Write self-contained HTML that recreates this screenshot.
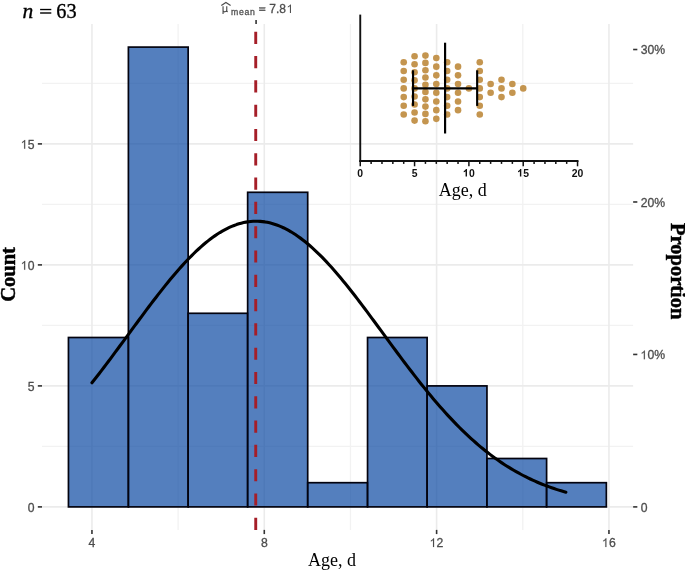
<!DOCTYPE html><html><head><meta charset="utf-8"><style>html,body{margin:0;padding:0;background:#fff;}svg{display:block;will-change:transform}</style><style>
.ax{font-family:"Liberation Sans",sans-serif;font-size:12.2px;fill:#4D4D4D;stroke:#4D4D4D;stroke-width:0.3px;}
.ax2{font-family:"Liberation Sans",sans-serif;font-size:12px;fill:#4D4D4D;}
.sub{font-family:"Liberation Sans",sans-serif;font-size:8.7px;fill:#555;letter-spacing:0.75px}
.ser{font-family:"Liberation Serif",serif;fill:#000;}
.sern{font-family:"Liberation Serif",serif;fill:#000;stroke:#000;stroke-width:0.35px;}
.serb{font-family:"Liberation Serif",serif;font-weight:bold;fill:#000;stroke:#000;stroke-width:0.45px;}
.ib{font-family:"Liberation Sans",sans-serif;font-weight:bold;font-size:10.4px;fill:#111;}
</style></head><body><svg width="685" height="570" viewBox="0 0 685 570"><rect width="685" height="570" fill="#fff"/><line x1="178.12" y1="24.11" x2="178.12" y2="529.89" stroke="#F2F2F2" stroke-width="1.3"/><line x1="350.45" y1="24.11" x2="350.45" y2="529.89" stroke="#F2F2F2" stroke-width="1.3"/><line x1="522.78" y1="24.11" x2="522.78" y2="529.89" stroke="#F2F2F2" stroke-width="1.3"/><line x1="42.02" y1="446.40" x2="633.14" y2="446.40" stroke="#F2F2F2" stroke-width="1.3"/><line x1="42.02" y1="325.40" x2="633.14" y2="325.40" stroke="#F2F2F2" stroke-width="1.3"/><line x1="42.02" y1="204.40" x2="633.14" y2="204.40" stroke="#F2F2F2" stroke-width="1.3"/><line x1="42.02" y1="83.40" x2="633.14" y2="83.40" stroke="#F2F2F2" stroke-width="1.3"/><line x1="91.95" y1="24.11" x2="91.95" y2="529.89" stroke="#EBEBEB" stroke-width="1.6"/><line x1="264.28" y1="24.11" x2="264.28" y2="529.89" stroke="#EBEBEB" stroke-width="1.6"/><line x1="436.61" y1="24.11" x2="436.61" y2="529.89" stroke="#EBEBEB" stroke-width="1.6"/><line x1="608.95" y1="24.11" x2="608.95" y2="529.89" stroke="#EBEBEB" stroke-width="1.6"/><line x1="42.02" y1="506.90" x2="633.14" y2="506.90" stroke="#EBEBEB" stroke-width="1.6"/><line x1="42.02" y1="385.90" x2="633.14" y2="385.90" stroke="#EBEBEB" stroke-width="1.6"/><line x1="42.02" y1="264.90" x2="633.14" y2="264.90" stroke="#EBEBEB" stroke-width="1.6"/><line x1="42.02" y1="143.90" x2="633.14" y2="143.90" stroke="#EBEBEB" stroke-width="1.6"/><rect x="68.45" y="337.50" width="59.95" height="169.40" fill="#0C48A2" fill-opacity="0.7" stroke="#03030f" stroke-width="1.7"/><rect x="128.40" y="47.10" width="59.75" height="459.80" fill="#0C48A2" fill-opacity="0.7" stroke="#03030f" stroke-width="1.7"/><rect x="188.15" y="313.30" width="59.50" height="193.60" fill="#0C48A2" fill-opacity="0.7" stroke="#03030f" stroke-width="1.7"/><rect x="247.65" y="192.30" width="60.05" height="314.60" fill="#0C48A2" fill-opacity="0.7" stroke="#03030f" stroke-width="1.7"/><rect x="307.70" y="482.70" width="59.85" height="24.20" fill="#0C48A2" fill-opacity="0.7" stroke="#03030f" stroke-width="1.7"/><rect x="367.55" y="337.50" width="59.57" height="169.40" fill="#0C48A2" fill-opacity="0.7" stroke="#03030f" stroke-width="1.7"/><rect x="427.12" y="385.90" width="59.83" height="121.00" fill="#0C48A2" fill-opacity="0.7" stroke="#03030f" stroke-width="1.7"/><rect x="486.95" y="458.50" width="59.65" height="48.40" fill="#0C48A2" fill-opacity="0.7" stroke="#03030f" stroke-width="1.7"/><rect x="546.60" y="482.70" width="59.75" height="24.20" fill="#0C48A2" fill-opacity="0.7" stroke="#03030f" stroke-width="1.7"/><polyline points="91.95,382.76 94.32,379.76 96.69,376.73 99.06,373.68 101.43,370.60 103.80,367.49 106.17,364.37 108.54,361.23 110.91,358.07 113.28,354.89 115.65,351.70 118.02,348.50 120.38,345.29 122.75,342.07 125.12,338.85 127.49,335.62 129.86,332.39 132.23,329.16 134.60,325.93 136.97,322.71 139.34,319.50 141.71,316.30 144.08,313.11 146.45,309.94 148.82,306.78 151.19,303.64 153.56,300.53 155.93,297.44 158.30,294.38 160.67,291.34 163.04,288.35 165.41,285.38 167.78,282.46 170.15,279.57 172.52,276.73 174.88,273.93 177.25,271.18 179.62,268.48 181.99,265.84 184.36,263.25 186.73,260.71 189.10,258.24 191.47,255.83 193.84,253.48 196.21,251.21 198.58,249.00 200.95,246.86 203.32,244.79 205.69,242.80 208.06,240.89 210.43,239.06 212.80,237.31 215.17,235.64 217.54,234.05 219.91,232.55 222.28,231.14 224.65,229.82 227.02,228.59 229.38,227.45 231.75,226.40 234.12,225.45 236.49,224.59 238.86,223.83 241.23,223.16 243.60,222.59 245.97,222.12 248.34,221.75 250.71,221.48 253.08,221.30 255.45,221.22 257.82,221.25 260.19,221.37 262.56,221.59 264.93,221.91 267.30,222.33 269.67,222.85 272.04,223.46 274.41,224.18 276.78,224.98 279.15,225.89 281.52,226.88 283.88,227.98 286.25,229.16 288.62,230.43 290.99,231.80 293.36,233.25 295.73,234.79 298.10,236.41 300.47,238.12 302.84,239.91 305.21,241.78 307.58,243.73 309.95,245.76 312.32,247.86 314.69,250.03 317.06,252.27 319.43,254.58 321.80,256.96 324.17,259.40 326.54,261.90 328.91,264.46 331.28,267.08 333.65,269.75 336.02,272.47 338.38,275.25 340.75,278.06 343.12,280.93 345.49,283.83 347.86,286.78 350.23,289.76 352.60,292.77 354.97,295.82 357.34,298.89 359.71,301.99 362.08,305.12 364.45,308.27 366.82,311.43 369.19,314.61 371.56,317.81 373.93,321.02 376.30,324.23 378.67,327.46 381.04,330.68 383.41,333.91 385.78,337.14 388.15,340.37 390.52,343.59 392.88,346.81 395.25,350.01 397.62,353.21 399.99,356.39 402.36,359.56 404.73,362.71 407.10,365.85 409.47,368.96 411.84,372.05 414.21,375.12 416.58,378.16 418.95,381.18 421.32,384.17 423.69,387.13 426.06,390.06 428.43,392.95 430.80,395.81 433.17,398.64 435.54,401.44 437.91,404.19 440.28,406.91 442.65,409.59 445.02,412.24 447.38,414.84 449.75,417.40 452.12,419.92 454.49,422.40 456.86,424.84 459.23,427.23 461.60,429.59 463.97,431.89 466.34,434.16 468.71,436.38 471.08,438.56 473.45,440.69 475.82,442.78 478.19,444.82 480.56,446.82 482.93,448.78 485.30,450.69 487.67,452.56 490.04,454.38 492.41,456.16 494.78,457.90 497.15,459.59 499.52,461.24 501.88,462.85 504.25,464.42 506.62,465.94 508.99,467.43 511.36,468.87 513.73,470.27 516.10,471.64 518.47,472.96 520.84,474.25 523.21,475.50 525.58,476.71 527.95,477.88 530.32,479.02 532.69,480.13 535.06,481.20 537.43,482.23 539.80,483.23 542.17,484.20 544.54,485.14 546.91,486.04 549.28,486.92 551.65,487.76 554.02,488.57 556.38,489.36 558.75,490.12 561.12,490.85 563.49,491.56 565.86,492.23" fill="none" stroke="#000" stroke-width="3.1" stroke-linejoin="round" stroke-linecap="round"/><line x1="255.73" y1="529.89" x2="255.73" y2="24.11" stroke="#A51E28" stroke-width="2.9" stroke-dasharray="12.15 12.15"/><line x1="37.82" y1="506.90" x2="42.02" y2="506.90" stroke="#333333" stroke-width="1.6"/><text x="27.74" y="511.70" class="ax" xml:space="preserve">0</text><line x1="37.82" y1="385.90" x2="42.02" y2="385.90" stroke="#333333" stroke-width="1.6"/><text x="27.74" y="390.70" class="ax" xml:space="preserve">5</text><line x1="37.82" y1="264.90" x2="42.02" y2="264.90" stroke="#333333" stroke-width="1.6"/><path transform="translate(20.65,269.70) scale(0.00596,-0.00596)" d="M763,0H583V1147C540,1106 483,1065 413,1024C343,983 280,952 225,931V1105C326,1152 414,1210 489,1277C564,1344 617,1409 648,1472H763Z" fill="#4D4D4D" stroke="#4D4D4D" stroke-width="20.1"/><text x="27.74" y="269.70" class="ax" xml:space="preserve">0</text><line x1="37.82" y1="143.90" x2="42.02" y2="143.90" stroke="#333333" stroke-width="1.6"/><path transform="translate(20.65,148.70) scale(0.00596,-0.00596)" d="M763,0H583V1147C540,1106 483,1065 413,1024C343,983 280,952 225,931V1105C326,1152 414,1210 489,1277C564,1344 617,1409 648,1472H763Z" fill="#4D4D4D" stroke="#4D4D4D" stroke-width="20.1"/><text x="27.74" y="148.70" class="ax" xml:space="preserve">5</text><line x1="91.95" y1="529.89" x2="91.95" y2="534.09" stroke="#333333" stroke-width="1.6"/><text x="88.56" y="547.09" class="ax" xml:space="preserve">4</text><line x1="264.28" y1="529.89" x2="264.28" y2="534.09" stroke="#333333" stroke-width="1.6"/><text x="260.89" y="547.09" class="ax" xml:space="preserve">8</text><line x1="436.61" y1="529.89" x2="436.61" y2="534.09" stroke="#333333" stroke-width="1.6"/><path transform="translate(429.53,547.09) scale(0.00596,-0.00596)" d="M763,0H583V1147C540,1106 483,1065 413,1024C343,983 280,952 225,931V1105C326,1152 414,1210 489,1277C564,1344 617,1409 648,1472H763Z" fill="#4D4D4D" stroke="#4D4D4D" stroke-width="20.1"/><text x="436.61" y="547.09" class="ax" xml:space="preserve">2</text><line x1="608.95" y1="529.89" x2="608.95" y2="534.09" stroke="#333333" stroke-width="1.6"/><path transform="translate(601.86,547.09) scale(0.00596,-0.00596)" d="M763,0H583V1147C540,1106 483,1065 413,1024C343,983 280,952 225,931V1105C326,1152 414,1210 489,1277C564,1344 617,1409 648,1472H763Z" fill="#4D4D4D" stroke="#4D4D4D" stroke-width="20.1"/><text x="608.95" y="547.09" class="ax" xml:space="preserve">6</text><line x1="633.14" y1="506.90" x2="637.34" y2="506.90" stroke="#333333" stroke-width="1.6"/><text x="640.64" y="511.80" class="ax" xml:space="preserve">0</text><line x1="633.14" y1="354.44" x2="637.34" y2="354.44" stroke="#333333" stroke-width="1.6"/><path transform="translate(640.34,359.34) scale(0.00596,-0.00596)" d="M763,0H583V1147C540,1106 483,1065 413,1024C343,983 280,952 225,931V1105C326,1152 414,1210 489,1277C564,1344 617,1409 648,1472H763Z" fill="#4D4D4D" stroke="#4D4D4D" stroke-width="20.1"/><text x="647.43" y="359.34" class="ax" xml:space="preserve">0%</text><line x1="633.14" y1="201.98" x2="637.34" y2="201.98" stroke="#333333" stroke-width="1.6"/><text x="640.64" y="206.88" class="ax" xml:space="preserve">20%</text><line x1="633.14" y1="49.52" x2="637.34" y2="49.52" stroke="#333333" stroke-width="1.6"/><text x="640.64" y="54.42" class="ax" xml:space="preserve">30%</text><line x1="256.08" y1="19.91" x2="256.08" y2="24.11" stroke="#333333" stroke-width="1.6"/><g class="ax"><path d="M223.05,6.3 V13.9 M223.05,10.2 C223.2,11.6 224.2,11.9 225.0,11.8 C226.0,11.7 226.7,11.0 226.75,10.0 M226.75,6.3 V10.6 C226.8,11.4 227.2,11.7 227.8,11.6" fill="none" stroke="#4D4D4D" stroke-width="1.15"/><path d="M221.3,5.5 L225.9,2.4 L230.6,5.5" fill="none" stroke="#4D4D4D" stroke-width="1.2" stroke-linejoin="miter"/><text x="230.9" y="14.7" class="sub">mean</text><rect x="259.3" y="7.45" width="5.9" height="1.0" fill="#4D4D4D"/><rect x="259.3" y="9.85" width="5.9" height="1.0" fill="#4D4D4D"/><text x="269.3" y="13.0" class="ax2">7.8</text><path transform="translate(286.5,13.0) scale(0.005859,-0.005859)" d="M763,0H583V1147C540,1106 483,1065 413,1024C343,983 280,952 225,931V1105C326,1152 414,1210 489,1277C564,1344 617,1409 648,1472H763Z" fill="#4D4D4D"/></g><text x="22.5" y="18.4" class="sern" style="font-size:21.5px;font-style:italic">n</text><rect x="40.1" y="8.85" width="11.2" height="1.35" fill="#000"/><rect x="40.1" y="12.3" width="11.2" height="1.4" fill="#000"/><text x="56.3" y="18.4" class="sern" style="font-size:21.5px" textLength="20.3" lengthAdjust="spacingAndGlyphs">63</text><text x="331.9" y="566.3" class="ser" text-anchor="middle" style="font-size:18px">Age, d</text><text transform="translate(14.8,274.4) rotate(-90)" class="serb" text-anchor="middle" style="font-size:20.5px">Count</text><text transform="translate(670.7,271.2) rotate(90)" class="serb" text-anchor="middle" style="font-size:20.5px">Proportion</text><circle cx="403.71" cy="62.30" r="3.3" fill="#C4954F"/><circle cx="403.71" cy="71.00" r="3.3" fill="#C4954F"/><circle cx="403.71" cy="79.70" r="3.3" fill="#C4954F"/><circle cx="403.71" cy="88.40" r="3.3" fill="#C4954F"/><circle cx="403.71" cy="97.10" r="3.3" fill="#C4954F"/><circle cx="403.71" cy="105.80" r="3.3" fill="#C4954F"/><circle cx="403.71" cy="114.50" r="3.3" fill="#C4954F"/><circle cx="414.57" cy="56.20" r="3.3" fill="#C4954F"/><circle cx="414.57" cy="64.25" r="3.3" fill="#C4954F"/><circle cx="414.57" cy="72.30" r="3.3" fill="#C4954F"/><circle cx="414.57" cy="80.35" r="3.3" fill="#C4954F"/><circle cx="414.57" cy="88.40" r="3.3" fill="#C4954F"/><circle cx="414.57" cy="96.45" r="3.3" fill="#C4954F"/><circle cx="414.57" cy="104.50" r="3.3" fill="#C4954F"/><circle cx="414.57" cy="112.55" r="3.3" fill="#C4954F"/><circle cx="414.57" cy="120.60" r="3.3" fill="#C4954F"/><circle cx="425.44" cy="55.60" r="3.3" fill="#C4954F"/><circle cx="425.44" cy="62.89" r="3.3" fill="#C4954F"/><circle cx="425.44" cy="70.18" r="3.3" fill="#C4954F"/><circle cx="425.44" cy="77.47" r="3.3" fill="#C4954F"/><circle cx="425.44" cy="84.76" r="3.3" fill="#C4954F"/><circle cx="425.44" cy="92.05" r="3.3" fill="#C4954F"/><circle cx="425.44" cy="99.34" r="3.3" fill="#C4954F"/><circle cx="425.44" cy="106.62" r="3.3" fill="#C4954F"/><circle cx="425.44" cy="113.92" r="3.3" fill="#C4954F"/><circle cx="425.44" cy="121.21" r="3.3" fill="#C4954F"/><circle cx="436.31" cy="57.95" r="3.3" fill="#C4954F"/><circle cx="436.31" cy="66.65" r="3.3" fill="#C4954F"/><circle cx="436.31" cy="75.35" r="3.3" fill="#C4954F"/><circle cx="436.31" cy="84.05" r="3.3" fill="#C4954F"/><circle cx="436.31" cy="92.75" r="3.3" fill="#C4954F"/><circle cx="436.31" cy="101.45" r="3.3" fill="#C4954F"/><circle cx="436.31" cy="110.15" r="3.3" fill="#C4954F"/><circle cx="436.31" cy="118.85" r="3.3" fill="#C4954F"/><circle cx="447.17" cy="62.30" r="3.3" fill="#C4954F"/><circle cx="447.17" cy="71.00" r="3.3" fill="#C4954F"/><circle cx="447.17" cy="79.70" r="3.3" fill="#C4954F"/><circle cx="447.17" cy="88.40" r="3.3" fill="#C4954F"/><circle cx="447.17" cy="97.10" r="3.3" fill="#C4954F"/><circle cx="447.17" cy="105.80" r="3.3" fill="#C4954F"/><circle cx="447.17" cy="114.50" r="3.3" fill="#C4954F"/><circle cx="458.03" cy="66.65" r="3.3" fill="#C4954F"/><circle cx="458.03" cy="75.35" r="3.3" fill="#C4954F"/><circle cx="458.03" cy="84.05" r="3.3" fill="#C4954F"/><circle cx="458.03" cy="92.75" r="3.3" fill="#C4954F"/><circle cx="458.03" cy="101.45" r="3.3" fill="#C4954F"/><circle cx="458.03" cy="110.15" r="3.3" fill="#C4954F"/><circle cx="468.90" cy="88.40" r="3.3" fill="#C4954F"/><circle cx="479.76" cy="62.30" r="3.3" fill="#C4954F"/><circle cx="479.76" cy="71.00" r="3.3" fill="#C4954F"/><circle cx="479.76" cy="79.70" r="3.3" fill="#C4954F"/><circle cx="479.76" cy="88.40" r="3.3" fill="#C4954F"/><circle cx="479.76" cy="97.10" r="3.3" fill="#C4954F"/><circle cx="479.76" cy="105.80" r="3.3" fill="#C4954F"/><circle cx="479.76" cy="114.50" r="3.3" fill="#C4954F"/><circle cx="490.63" cy="84.05" r="3.3" fill="#C4954F"/><circle cx="490.63" cy="92.75" r="3.3" fill="#C4954F"/><circle cx="501.50" cy="79.70" r="3.3" fill="#C4954F"/><circle cx="501.50" cy="88.40" r="3.3" fill="#C4954F"/><circle cx="501.50" cy="97.10" r="3.3" fill="#C4954F"/><circle cx="512.36" cy="84.05" r="3.3" fill="#C4954F"/><circle cx="512.36" cy="92.75" r="3.3" fill="#C4954F"/><circle cx="523.23" cy="88.40" r="3.3" fill="#C4954F"/><line x1="413.04" y1="88.4" x2="477.16" y2="88.4" stroke="#000" stroke-width="2.15"/><line x1="413.04" y1="70.3" x2="413.04" y2="105.9" stroke="#000" stroke-width="2.15"/><line x1="477.16" y1="70.3" x2="477.16" y2="105.9" stroke="#000" stroke-width="2.15"/><line x1="445.10" y1="42.7" x2="445.10" y2="133.5" stroke="#000" stroke-width="2.15"/><line x1="360.25" y1="14.6" x2="360.25" y2="162" stroke="#111" stroke-width="1.9"/><line x1="359.30" y1="161.0" x2="578.50" y2="161.0" stroke="#111" stroke-width="2.0"/><line x1="360.25" y1="161.0" x2="360.25" y2="166.30" stroke="#111" stroke-width="1.5"/><text x="357.36" y="176.60" class="ib" xml:space="preserve">0</text><line x1="371.12" y1="161.0" x2="371.12" y2="163.90" stroke="#111" stroke-width="1.5"/><line x1="381.98" y1="161.0" x2="381.98" y2="163.90" stroke="#111" stroke-width="1.5"/><line x1="392.85" y1="161.0" x2="392.85" y2="163.90" stroke="#111" stroke-width="1.5"/><line x1="403.71" y1="161.0" x2="403.71" y2="163.90" stroke="#111" stroke-width="1.5"/><line x1="414.57" y1="161.0" x2="414.57" y2="166.30" stroke="#111" stroke-width="1.5"/><text x="411.68" y="176.60" class="ib" xml:space="preserve">5</text><line x1="425.44" y1="161.0" x2="425.44" y2="163.90" stroke="#111" stroke-width="1.5"/><line x1="436.31" y1="161.0" x2="436.31" y2="163.90" stroke="#111" stroke-width="1.5"/><line x1="447.17" y1="161.0" x2="447.17" y2="163.90" stroke="#111" stroke-width="1.5"/><line x1="458.03" y1="161.0" x2="458.03" y2="163.90" stroke="#111" stroke-width="1.5"/><line x1="468.90" y1="161.0" x2="468.90" y2="166.30" stroke="#111" stroke-width="1.5"/><path transform="translate(462.82,176.60) scale(0.00508,-0.00508)" d="M824,0H543V1059C440,963 319,892 180,846V1101C253,1125 333,1170 419,1236C505,1303 564,1381 596,1472H824Z" fill="#111"/><text x="468.90" y="176.60" class="ib" xml:space="preserve">0</text><line x1="479.76" y1="161.0" x2="479.76" y2="163.90" stroke="#111" stroke-width="1.5"/><line x1="490.63" y1="161.0" x2="490.63" y2="163.90" stroke="#111" stroke-width="1.5"/><line x1="501.50" y1="161.0" x2="501.50" y2="163.90" stroke="#111" stroke-width="1.5"/><line x1="512.36" y1="161.0" x2="512.36" y2="163.90" stroke="#111" stroke-width="1.5"/><line x1="523.23" y1="161.0" x2="523.23" y2="166.30" stroke="#111" stroke-width="1.5"/><path transform="translate(517.14,176.60) scale(0.00508,-0.00508)" d="M824,0H543V1059C440,963 319,892 180,846V1101C253,1125 333,1170 419,1236C505,1303 564,1381 596,1472H824Z" fill="#111"/><text x="523.23" y="176.60" class="ib" xml:space="preserve">5</text><line x1="534.09" y1="161.0" x2="534.09" y2="163.90" stroke="#111" stroke-width="1.5"/><line x1="544.96" y1="161.0" x2="544.96" y2="163.90" stroke="#111" stroke-width="1.5"/><line x1="555.82" y1="161.0" x2="555.82" y2="163.90" stroke="#111" stroke-width="1.5"/><line x1="566.68" y1="161.0" x2="566.68" y2="163.90" stroke="#111" stroke-width="1.5"/><line x1="577.55" y1="161.0" x2="577.55" y2="166.30" stroke="#111" stroke-width="1.5"/><text x="571.77" y="176.60" class="ib" xml:space="preserve">20</text><text x="462.7" y="195.7" class="ser" text-anchor="middle" style="font-size:18px">Age, d</text></svg></body></html>
